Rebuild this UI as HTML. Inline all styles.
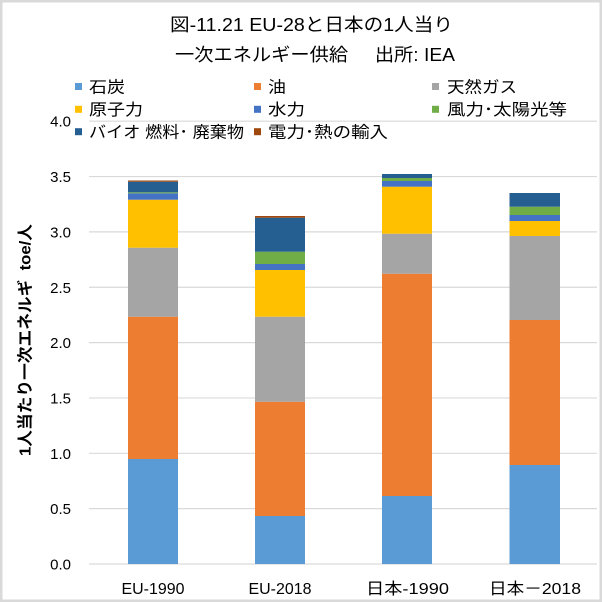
<!DOCTYPE html>
<html>
<head>
<meta charset="utf-8">
<style>
  html,body{margin:0;padding:0;background:#fff;}
  svg{display:block;}
  text{font-family:"Liberation Sans","Noto Sans CJK JP",sans-serif;fill:#000;}
</style>
</head>
<body>
<svg width="602" height="602" viewBox="0 0 602 602" xmlns="http://www.w3.org/2000/svg">
  <rect x="0" y="0" width="602" height="602" fill="#fff"/>
  <!-- gridlines -->
  <g stroke="#d9d9d9" stroke-width="1.2">
    <line x1="89" y1="564" x2="597" y2="564"/>
    <line x1="89" y1="508.65" x2="597" y2="508.65"/>
    <line x1="89" y1="453.3" x2="597" y2="453.3"/>
    <line x1="89" y1="397.95" x2="597" y2="397.95"/>
    <line x1="89" y1="342.6" x2="597" y2="342.6"/>
    <line x1="89" y1="287.25" x2="597" y2="287.25"/>
    <line x1="89" y1="231.9" x2="597" y2="231.9"/>
    <line x1="89" y1="176.55" x2="597" y2="176.55"/>
    <line x1="89" y1="121.2" x2="597" y2="121.2"/>
  </g>

  <!-- Bar 1 EU-1990 -->
  <g>
    <rect x="128" y="459" width="50" height="105" fill="#5B9BD5"/>
    <rect x="128" y="316.7" width="50" height="142.3" fill="#ED7D31"/>
    <rect x="128" y="247.7" width="50" height="69" fill="#A5A5A5"/>
    <rect x="128" y="199.7" width="50" height="48" fill="#FFC000"/>
    <rect x="128" y="193.3" width="50" height="6.4" fill="#4472C4"/>
    <rect x="128" y="192.3" width="50" height="1" fill="#70AD47"/>
    <rect x="128" y="181.7" width="50" height="10.6" fill="#255E91"/>
    <rect x="128" y="180.5" width="50" height="1.2" fill="#9E480E"/>
  </g>
  <!-- Bar 2 EU-2018 -->
  <g>
    <rect x="255" y="516" width="50" height="48" fill="#5B9BD5"/>
    <rect x="255" y="401.7" width="50" height="114.3" fill="#ED7D31"/>
    <rect x="255" y="316.7" width="50" height="85" fill="#A5A5A5"/>
    <rect x="255" y="270" width="50" height="46.7" fill="#FFC000"/>
    <rect x="255" y="264" width="50" height="6" fill="#4472C4"/>
    <rect x="255" y="251.7" width="50" height="12.3" fill="#70AD47"/>
    <rect x="255" y="217.7" width="50" height="34" fill="#255E91"/>
    <rect x="255" y="216" width="50" height="1.7" fill="#9E480E"/>
  </g>
  <!-- Bar 3 日本-1990 -->
  <g>
    <rect x="382" y="496" width="50" height="68" fill="#5B9BD5"/>
    <rect x="382" y="273.7" width="50" height="222.3" fill="#ED7D31"/>
    <rect x="382" y="233.7" width="50" height="40" fill="#A5A5A5"/>
    <rect x="382" y="186.7" width="50" height="47" fill="#FFC000"/>
    <rect x="382" y="181" width="50" height="5.7" fill="#4472C4"/>
    <rect x="382" y="178" width="50" height="3" fill="#70AD47"/>
    <rect x="382" y="174" width="50" height="4" fill="#255E91"/>
  </g>
  <!-- Bar 4 日本-2018 -->
  <g>
    <rect x="509.5" y="465" width="50.5" height="99" fill="#5B9BD5"/>
    <rect x="509.5" y="320" width="50.5" height="145" fill="#ED7D31"/>
    <rect x="509.5" y="236" width="50.5" height="84" fill="#A5A5A5"/>
    <rect x="509.5" y="221" width="50.5" height="15" fill="#FFC000"/>
    <rect x="509.5" y="215" width="50.5" height="6" fill="#4472C4"/>
    <rect x="509.5" y="206.7" width="50.5" height="8.3" fill="#70AD47"/>
    <rect x="509.5" y="193" width="50.5" height="13.7" fill="#255E91"/>
  </g>

  <!-- Title -->
  <text x="170" y="31" font-size="18" textLength="283" lengthAdjust="spacingAndGlyphs">図-11.21  EU-28と日本の1人当り</text>
  <text x="175" y="61" font-size="18" textLength="280" lengthAdjust="spacingAndGlyphs" xml:space="preserve">一次エネルギー供給     出所: IEA</text>

  <!-- Legend -->
  <g>
    <rect x="75" y="83" width="7" height="7" fill="#5B9BD5"/>
    <text x="89" y="92.5" font-size="16" textLength="36" lengthAdjust="spacingAndGlyphs">石炭</text>
    <rect x="254" y="83" width="7" height="7" fill="#ED7D31"/>
    <text x="268" y="92.5" font-size="16" textLength="18" lengthAdjust="spacingAndGlyphs">油</text>
    <rect x="432" y="83" width="7" height="7" fill="#A5A5A5"/>
    <text x="447" y="92.5" font-size="16" textLength="70" lengthAdjust="spacingAndGlyphs">天然ガス</text>

    <rect x="75" y="105.8" width="7" height="7" fill="#FFC000"/>
    <text x="89" y="115" font-size="16" textLength="54" lengthAdjust="spacingAndGlyphs">原子力</text>
    <rect x="254" y="105.8" width="7" height="7" fill="#4472C4"/>
    <text x="268" y="115" font-size="16" textLength="37" lengthAdjust="spacingAndGlyphs">水力</text>
    <rect x="432" y="105.8" width="7" height="7" fill="#70AD47"/>
    <text x="447" y="115" font-size="16" textLength="120" lengthAdjust="spacingAndGlyphs">風力･太陽光等</text>

    <rect x="75" y="128.2" width="7" height="7" fill="#255E91"/>
    <text x="89" y="137.5" font-size="16" textLength="155" lengthAdjust="spacingAndGlyphs">バイオ 燃料･ 廃棄物</text>
    <rect x="254" y="128.2" width="7" height="7" fill="#9E480E"/>
    <text x="268" y="137.5" font-size="16" textLength="120" lengthAdjust="spacingAndGlyphs">電力･熱の輸入</text>
  </g>

  <!-- Y tick labels -->
  <g font-size="15" text-anchor="end">
    <text x="71" y="569.5">0.0</text>
    <text x="71" y="514.2">0.5</text>
    <text x="71" y="458.8">1.0</text>
    <text x="71" y="403.5">1.5</text>
    <text x="71" y="348.1">2.0</text>
    <text x="71" y="292.8">2.5</text>
    <text x="71" y="237.4">3.0</text>
    <text x="71" y="182.1">3.5</text>
    <text x="71" y="126.7">4.0</text>
  </g>

  <!-- Y axis title -->
  <text transform="translate(30.5,340) rotate(-90)" text-anchor="middle" font-size="16" font-weight="bold" textLength="232" lengthAdjust="spacingAndGlyphs" xml:space="preserve">1人当たり一次エネルギ  toe/人</text>

  <!-- Category labels -->
  <g font-size="16" text-anchor="middle">
    <text x="153" y="594" textLength="63" lengthAdjust="spacingAndGlyphs">EU-1990</text>
    <text x="280" y="594" textLength="63" lengthAdjust="spacingAndGlyphs">EU-2018</text>
    <text x="407.5" y="594" textLength="83" lengthAdjust="spacingAndGlyphs">日本-1990</text>
    <text x="535" y="594" textLength="92" lengthAdjust="spacingAndGlyphs">日本－2018</text>
  </g>

  <!-- outer border -->
  <rect x="1.25" y="1.25" width="599.5" height="599.5" fill="none" stroke="#d9d9d9" stroke-width="2.5"/>
</svg>
</body>
</html>
